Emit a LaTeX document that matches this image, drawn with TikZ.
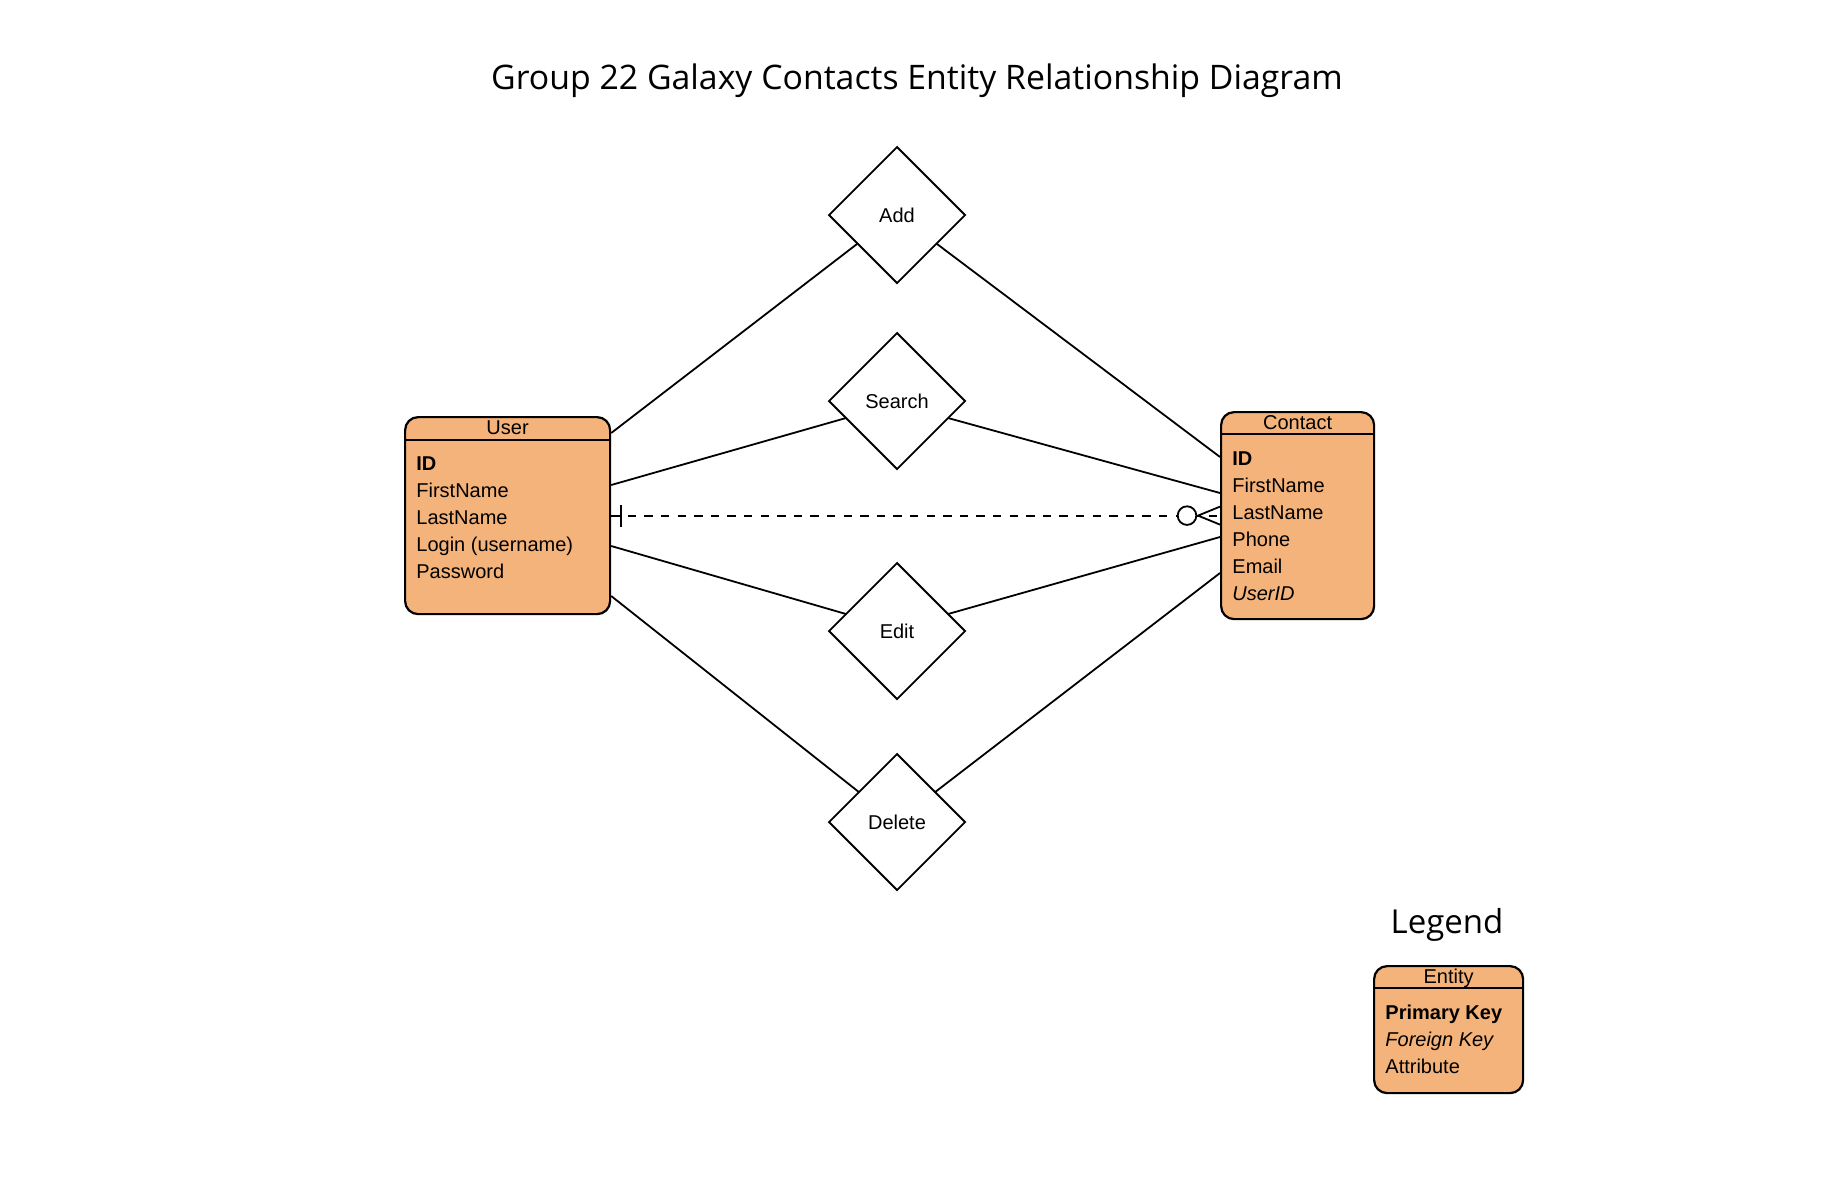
\documentclass[tikz,border=0pt]{standalone}
\usepackage{fontspec}
\setmainfont{Liberation Sans}
\newfontfamily\titlefont{Open Sans}
\usetikzlibrary{shapes.geometric,calc}
\definecolor{entfill}{HTML}{F4B37A}
\begin{document}
\begin{tikzpicture}[x=0.5pt,y=-0.5pt,
  entitybox/.style={draw=black,line width=1.1pt,fill=entfill,rounded corners=6.5pt,inner sep=0pt,anchor=north west},
  hdrline/.style={line width=1pt},
  rel/.style={draw=black,line width=0.9pt,diamond,inner sep=0pt,outer sep=0pt,minimum width=68pt,minimum height=68pt,font=\fontsize{10pt}{12pt}\selectfont},
  conn/.style={line width=0.9pt},
  attr/.style={inner sep=0pt,anchor=base west,font=\fontsize{10pt}{12pt}\selectfont},
  hdr/.style={inner sep=0pt,anchor=base,font=\fontsize{10pt}{12pt}\selectfont},
  relline/.style={line width=0.9pt,dash pattern=on 4.15pt off 4.15pt}
]
\useasboundingbox (0,0) rectangle (1840,1180);
\fill[white] (0,0) rectangle (1840,1180);

% title
\node[inner sep=0pt,anchor=base,font=\titlefont\fontsize{16.9pt}{20pt}\selectfont] (title) at (917,89) {Group 22 Galaxy Contacts Entity Relationship Diagram};

% User entity
\node[entitybox,minimum width=102.5pt,minimum height=98.5pt] (user) at (404,416) {};
\draw[hdrline] ($(user.north west)+(0,24)$) -- ($(user.north east)+(0,24)$);
\node[hdr] (userh) at ($(user.north)+(0,18)$) {User};
\node[attr] (u1) at ($(user.north west)+(12,54)$) {\textbf{ID}};
\node[attr] (u2) at ($(user.north west)+(12,81)$) {FirstName};
\node[attr] (u3) at ($(user.north west)+(12,108)$) {LastName};
\node[attr] (u4) at ($(user.north west)+(12,135)$) {Login (username)};
\node[attr] (u5) at ($(user.north west)+(12,162)$) {Password};

% Contact entity
\node[entitybox,minimum width=76.5pt,minimum height=103.5pt] (contact) at (1220,411) {};
\draw[hdrline] ($(contact.north west)+(0,23)$) -- ($(contact.north east)+(0,23)$);
\node[hdr] (contacth) at ($(contact.north)+(0,18)$) {Contact};
\node[attr] (c1) at ($(contact.north west)+(12,54)$) {\textbf{ID}};
\node[attr] (c2) at ($(contact.north west)+(12,81)$) {FirstName};
\node[attr] (c3) at ($(contact.north west)+(12,108)$) {LastName};
\node[attr] (c4) at ($(contact.north west)+(12,135)$) {Phone};
\node[attr] (c5) at ($(contact.north west)+(12,162)$) {Email};
\node[attr] (c6) at ($(contact.north west)+(12,189)$) {\textit{UserID}};

% relationships
\node[rel] (add) at (897,215) {Add};
\node[rel] (search) at (897,401) {Search};
\node[rel] (edit) at (897,631) {Edit};
\node[rel] (delete) at (897,822) {Delete};

% connectors
\coordinate (ua) at ($(user.north east)+(0,17)$);
\coordinate (us) at ($(user.north east)+(0,69)$);
\coordinate (ue) at ($(user.north east)+(0,130)$);
\coordinate (ud) at ($(user.north east)+(0,180)$);
\coordinate (ca) at ($(contact.north west)+(0,46)$);
\coordinate (cs) at ($(contact.north west)+(0,82)$);
\coordinate (ce) at ($(contact.north west)+(0,126)$);
\coordinate (cd) at ($(contact.north west)+(0,162)$);

\draw[conn] (ua) -- ($(add.west)!0.42!(add.south)$);
\draw[conn] ($(add.east)!0.42!(add.south)$) -- (ca);
\draw[conn] (us) -- ($(search.west)!0.25!(search.south)$);
\draw[conn] ($(search.east)!0.25!(search.south)$) -- (cs);
\draw[conn] (ue) -- ($(edit.west)!0.25!(edit.north)$);
\draw[conn] ($(edit.east)!0.25!(edit.north)$) -- (ce);
\draw[conn] (ud) -- ($(delete.west)!0.44!(delete.north)$);
\draw[conn] ($(delete.east)!0.44!(delete.north)$) -- (cd);

% one-to-many (optional) relationship
\draw[relline] (user.east) -- (contact.west);
\draw[conn] ($(user.east)+(10,-11)$) -- ($(user.east)+(10,11)$);
\coordinate (cf) at ($(contact.west)+(-22,0)$);
\draw[conn] (cf) -- ($(contact.west)+(0,-9)$);
\draw[conn] (cf) -- ($(contact.west)+(0,9)$);
\node[circle,draw=black,line width=0.9pt,fill=white,inner sep=0pt,minimum size=9.3pt] (circ) at ($(contact.west)+(-33,0)$) {};

% legend
\node[inner sep=0pt,anchor=base,font=\titlefont\fontsize{16.5pt}{20pt}\selectfont] (legendt) at (1447,933) {Legend};
\node[entitybox,minimum width=74.5pt,minimum height=63.5pt] (legend) at (1373,965) {};
\draw[hdrline] ($(legend.north west)+(0,23)$) -- ($(legend.north east)+(0,23)$);
\node[hdr] (legendh) at ($(legend.north)+(0,18)$) {Entity};
\node[attr] (l1) at ($(legend.north west)+(12,54)$) {\textbf{Primary Key}};
\node[attr] (l2) at ($(legend.north west)+(12,81)$) {\textit{Foreign Key}};
\node[attr] (l3) at ($(legend.north west)+(12,108)$) {Attribute};
\end{tikzpicture}
\end{document}
